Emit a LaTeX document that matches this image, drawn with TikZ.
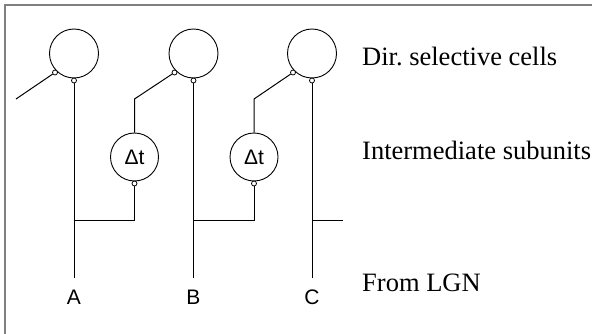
\documentclass[tikz,border=0pt]{standalone}
\usepackage{fontspec}
\newfontfamily\labserif{Liberation Serif}
\newfontfamily\labsans{Liberation Sans}
\frenchspacing
\begin{document}
\begin{tikzpicture}[x=1pt,y=-1pt,
  cell/.style={circle,draw,line width=0.9pt,minimum size=49pt,inner sep=0pt},
  delay/.style={circle,draw,line width=0.9pt,minimum size=48pt,inner sep=0pt,font=\labsans\fontsize{21}{24}\selectfont},
  knob/.style={circle,draw,line width=0.8pt,fill=white,minimum size=5pt,inner sep=0pt},
  wire/.style={line width=1pt},
  frameline/.style={line width=1.8pt,draw=black!50},
  inlab/.style={font=\labsans\fontsize{21}{24}\selectfont,inner sep=0pt},
  rowlab/.style={font=\labserif\fontsize{26.5}{30}\selectfont,anchor=base west,inner sep=0pt}]
\useasboundingbox (0,0) rectangle (592,334);
\draw[frameline] (5,334) -- (5,5) -- (592,5);
% cells
\node[cell] (c1) at (74,53.5) {};
\node[cell] (c2) at (193.5,53.5) {};
\node[cell] (c3) at (312,53.5) {};
\node[knob] (k1l) at (55,72.5) {};
\node[knob] (k1b) at (74,80.5) {};
\node[knob] (k2l) at (174.5,72.5) {};
\node[knob] (k2b) at (193.5,80.5) {};
\node[knob] (k3l) at (293,72.5) {};
\node[knob] (k3b) at (312,80.5) {};
% delay units
\node[delay] (d1) at (134.5,157) {Δt};
\node[delay] (d2) at (254,157) {Δt};
\node[knob] (dk1) at (134.5,183.5) {};
\node[knob] (dk2) at (254,183.5) {};
% coordinates
\coordinate (e1) at (16,99);
\coordinate (j1) at (134.5,99);
\coordinate (j2) at (254,99);
\coordinate (ea) at (74,278);
\coordinate (eb) at (193.5,278);
\coordinate (ec) at (312,278);
\coordinate (ha) at (74,220);
\coordinate (hb) at (193.5,220);
\coordinate (hc) at (312,220);
\coordinate (hd1) at (134.5,220);
\coordinate (hd2) at (254,220);
\coordinate (hr) at (343,220);
% wires
\draw[wire] (k1l) -- (e1);
\draw[wire] (k1b) -- (ea);
\draw[wire] (k2l) -- (j1) -- (d1);
\draw[wire] (dk1) -- (hd1) -- (ha);
\draw[wire] (k2b) -- (eb);
\draw[wire] (k3l) -- (j2) -- (d2);
\draw[wire] (dk2) -- (hd2) -- (hb);
\draw[wire] (k3b) -- (ec);
\draw[wire] (hc) -- (hr);
% input labels
\node[inlab] (la) at (74,297.5) {A};
\node[inlab] (lb) at (193.5,297.5) {B};
\node[inlab] (lc) at (312,297.5) {C};
% row labels
\node[rowlab] (r1) at (362,65.7) {Dir. selective cells};
\node[rowlab] (r2) at (362,160) {Intermediate subunits};
\node[rowlab] (r3) at (362,291.7) {From LGN};
\end{tikzpicture}
\end{document}
